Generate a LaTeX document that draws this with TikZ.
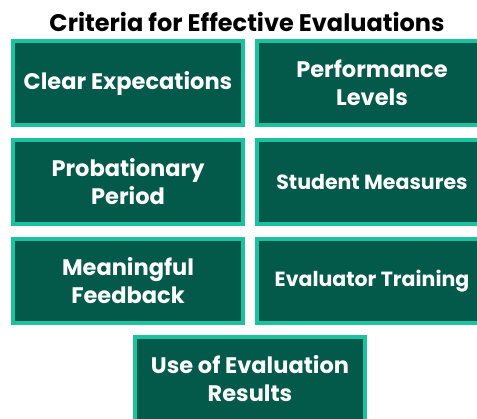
\documentclass[tikz,border=0pt]{standalone}
\usepackage{fontspec}
\setmainfont{Poppins}
\definecolor{boxfill}{HTML}{03594A}
\definecolor{boxedge}{HTML}{1CC1A0}
\begin{document}
\begin{tikzpicture}[x=1pt,y=-1pt,
  crit/.style={draw=boxedge, fill=boxfill, line width=4pt,
    minimum width=230pt, minimum height=84pt, inner sep=0pt,
    text=white, align=center, font=\fontsize{22.5}{28}\selectfont\bfseries},
  narrow/.style={font=\fontsize{20.5}{26}\selectfont\bfseries},
  heading/.style={font=\fontsize{24}{26}\selectfont\bfseries, text=black}]
\useasboundingbox (0,0) rectangle (477,419);
\node[heading] (title) at (247,22) {Criteria for Effective Evaluations};
\node[crit] (clear) at (128,83) {Clear Expecations};
\node[crit] (perf)  at (372,83) {Performance\\Levels};
\node[crit] (prob)  at (128,182) {Probationary\\Period};
\node[crit, narrow] (stud)  at (372,182) {Student Measures};
\node[crit] (feed)  at (128,281) {Meaningful\\Feedback};
\node[crit, narrow] (train) at (372,281) {Evaluator Training};
\node[crit] (use)   at (250,379) {Use of Evaluation\\Results};
\end{tikzpicture}
\end{document}
